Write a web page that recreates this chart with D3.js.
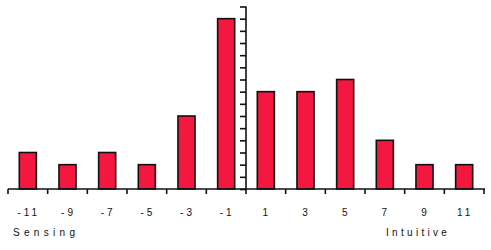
<!DOCTYPE html>
<html><head><meta charset="utf-8">
<script src="https://cdn.jsdelivr.net/npm/d3@7"></script>
<style>html,body{margin:0;padding:0;background:#fff;}</style>
</head><body>
<script>
const categories = ["-11","-9","-7","-5","-3","-1","1","3","5","7","9","11"];
const counts = [3,2,3,2,6,14,8,8,9,4,2,2];
const leftLabel = "Sensing";
const rightLabel = "Intuitive";
const yMax = 15;

const W = 491, H = 250;
const svg = d3.select("body").append("svg").attr("width", W).attr("height", H);

const x = d3.scaleBand().domain(categories).range([8, 484]).paddingInner(0.57).paddingOuter(0.285);
const y = d3.scaleLinear().domain([0, yMax]).range([189, 6.5]);

// bars
svg.selectAll("rect.bar").data(counts).join("rect")
  .attr("class","bar")
  .attr("x", (d,i) => x(categories[i]))
  .attr("width", x.bandwidth())
  .attr("y", d => y(d))
  .attr("height", d => y(0) - y(d))
  .attr("fill", "#F4173F")
  .attr("stroke", "#111")
  .attr("stroke-width", 1.6);

// x axis with boundary ticks
const bounds = d3.range(categories.length + 1).map(i => x.range()[0] + i * x.step());
svg.append("line").attr("x1", x.range()[0]).attr("x2", x.range()[1] + 1).attr("y1", y(0)).attr("y2", y(0))
  .attr("stroke", "#111").attr("stroke-width", 1.6);
svg.selectAll("line.xt").data(bounds).join("line").attr("class","xt")
  .attr("x1", d => d).attr("x2", d => d).attr("y1", y(0)).attr("y2", y(0) + 5)
  .attr("stroke", "#111").attr("stroke-width", 1.6);

// y axis (center)
const yAxisX = bounds[6];
const yAx = svg.append("g").attr("transform", `translate(${yAxisX},0)`)
  .call(d3.axisLeft(y).ticks(yMax).tickSize(6).tickFormat(""));
yAx.select(".domain").attr("d", `M0,${y(yMax)}V${y(0)}`).attr("stroke","#111").attr("stroke-width",1.6);
yAx.selectAll(".tick line").attr("stroke","#111").attr("stroke-width",1.6);

// tick labels
svg.selectAll("text.xl").data(categories).join("text").attr("class","xl")
  .attr("x", d => x(d) + x.bandwidth()/2 + 1)
  .attr("y", 215.5)
  .attr("text-anchor","middle")
  .attr("font-family","Liberation Sans, Arial, sans-serif")
  .attr("font-size", 10)
  .attr("letter-spacing", 3)
  .attr("fill","#111")
  .text(d => d);

svg.append("text").attr("x", 13).attr("y", 236)
  .attr("font-family","Liberation Sans, Arial, sans-serif").attr("font-size", 10)
  .attr("letter-spacing", 4.3).attr("fill","#111").text(leftLabel);
svg.append("text").attr("x", 386).attr("y", 236)
  .attr("font-family","Liberation Sans, Arial, sans-serif").attr("font-size", 10)
  .attr("letter-spacing", 3.3).attr("fill","#111").text(rightLabel);
</script>
</body></html>
